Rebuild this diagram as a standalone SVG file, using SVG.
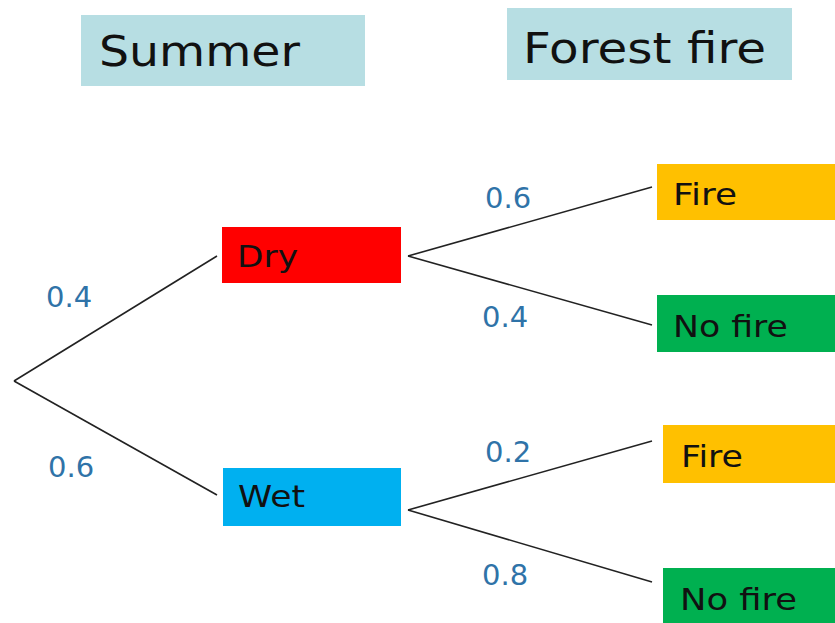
<svg xmlns="http://www.w3.org/2000/svg" width="835" height="623" viewBox="0 0 835 623">
  <style>
    .hdr { font-family: "DejaVu Sans", Verdana, sans-serif; font-size: 43px; fill: #111; }
    .lbl { font-family: "DejaVu Sans", Verdana, sans-serif; font-size: 30px; fill: #111; }
    .p { font-family: "DejaVu Sans", Verdana, sans-serif; font-size: 29px; fill: #2F73A8; }
    .edge { stroke: #222; stroke-width: 1.6; fill: none; }
  </style>
  <rect width="835" height="623" fill="#ffffff"/>

  <g id="hdr-summer">
    <rect x="81" y="15" width="284" height="71" fill="#B7DEE3"/>
    <text class="hdr" x="99" y="66" textLength="201" lengthAdjust="spacingAndGlyphs">Summer</text>
  </g>
  <g id="hdr-forest">
    <rect x="507" y="8" width="285" height="72" fill="#B7DEE3"/>
    <text class="hdr" x="523" y="63" font-size="46" textLength="243" lengthAdjust="spacingAndGlyphs">Forest fire</text>
  </g>

  <g id="connectors">
    <line class="edge" x1="14" y1="381" x2="217" y2="256"/>
    <line class="edge" x1="14" y1="381" x2="217" y2="495"/>
    <line class="edge" x1="408" y1="256" x2="652" y2="187"/>
    <line class="edge" x1="408" y1="256" x2="652" y2="325"/>
    <line class="edge" x1="408" y1="510" x2="652" y2="441"/>
    <line class="edge" x1="408" y1="510" x2="652" y2="582"/>
  </g>

  <g id="probs">
    <text class="p" x="46" y="307">0.4</text>
    <text class="p" x="48" y="477">0.6</text>
    <text class="p" x="485" y="208">0.6</text>
    <text class="p" x="482" y="327">0.4</text>
    <text class="p" x="485" y="462">0.2</text>
    <text class="p" x="482" y="585">0.8</text>
  </g>

  <g id="dry">
    <rect x="222" y="227" width="179" height="56" fill="#FF0000"/>
    <text class="lbl" x="237" y="267" textLength="61" lengthAdjust="spacingAndGlyphs">Dry</text>
  </g>
  <g id="wet">
    <rect x="223" y="468" width="178" height="58" fill="#00B0F0"/>
    <text class="lbl" x="238" y="507" textLength="67" lengthAdjust="spacingAndGlyphs">Wet</text>
  </g>

  <g id="dry-fire">
    <rect x="657" y="164" width="178" height="56" fill="#FFC000"/>
    <text class="lbl" x="673" y="205" textLength="64" lengthAdjust="spacingAndGlyphs">Fire</text>
  </g>
  <g id="dry-nofire">
    <rect x="657" y="295" width="178" height="57" fill="#00B050"/>
    <text class="lbl" x="673" y="337" textLength="115" lengthAdjust="spacingAndGlyphs">No fire</text>
  </g>
  <g id="wet-fire">
    <rect x="663" y="425" width="172" height="58" fill="#FFC000"/>
    <text class="lbl" x="681" y="467" textLength="62" lengthAdjust="spacingAndGlyphs">Fire</text>
  </g>
  <g id="wet-nofire">
    <rect x="663" y="568" width="172" height="55" fill="#00B050"/>
    <text class="lbl" x="680" y="610" textLength="117" lengthAdjust="spacingAndGlyphs">No fire</text>
  </g>
</svg>
